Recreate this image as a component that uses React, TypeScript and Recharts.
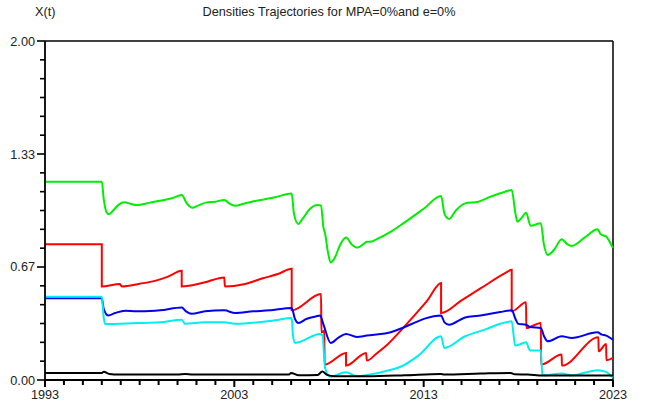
import { LineChart, Line, XAxis, YAxis, ReferenceLine } from "recharts";

// [year, density] pairs
const green = [
  [1993, 1.169], [1996.0, 1.169], [1996.1, 1.07], [1996.25, 0.99], [1996.38, 0.978],
  [1996.6, 1.0], [1996.9, 1.035], [1997.19, 1.048], [1997.5, 1.04], [1997.84, 1.032],
  [1998.5, 1.045], [1999.07, 1.058], [1999.7, 1.072], [2000.22, 1.091], [2000.5, 1.04],
  [2000.78, 1.016], [2001.1, 1.03], [2001.54, 1.048], [2002.0, 1.052], [2002.47, 1.062],
  [2002.75, 1.04], [2003.04, 1.028], [2003.5, 1.04], [2003.92, 1.052], [2004.89, 1.072],
  [2005.15, 1.078], [2006.03, 1.101], [2006.15, 0.98], [2006.38, 0.921], [2006.6, 0.95],
  [2007.0, 1.01], [2007.4, 1.032], [2007.58, 1.03], [2007.7, 0.905], [2007.8, 0.86],
  [2007.95, 0.75], [2008.09, 0.693], [2008.3, 0.72], [2008.6, 0.8], [2008.9, 0.84],
  [2009.2, 0.8], [2009.5, 0.781], [2009.8, 0.8], [2010.0, 0.816], [2010.17, 0.815],
  [2010.5, 0.83], [2011.23, 0.872], [2012.0, 0.93], [2013.0, 1.01], [2013.92, 1.085],
  [2014.1, 0.98], [2014.34, 0.95], [2014.7, 1.0], [2015.19, 1.042], [2015.89, 1.052],
  [2016.5, 1.08], [2017.3, 1.111], [2017.65, 1.121], [2017.85, 0.98], [2017.95, 0.934],
  [2018.2, 0.96], [2018.41, 0.987], [2018.65, 0.91], [2019.19, 0.925], [2019.35, 0.8],
  [2019.55, 0.738], [2019.9, 0.77], [2020.29, 0.83], [2020.6, 0.8], [2020.82, 0.791],
  [2021.5, 0.84], [2022.18, 0.889], [2022.35, 0.86], [2022.64, 0.846], [2022.94, 0.791],
  [2023, 0.78],
];

const red = [
  [1993, 0.801], [1996.0, 0.801], [1996.0, 0.552], [1996.96, 0.566], [1997.05, 0.552],
  [1998.0, 0.568], [1998.81, 0.585], [1999.5, 0.61], [2000.22, 0.644], [2000.22, 0.552],
  [2001.4, 0.575], [2002.47, 0.605], [2002.5, 0.552], [2003.5, 0.565], [2004.5, 0.6],
  [2005.3, 0.625], [2006.03, 0.656], [2006.03, 0.411], [2007.58, 0.507], [2007.6, 0.28],
  [2007.75, 0.29], [2007.77, 0.09], [2008.9, 0.16], [2008.9, 0.085], [2009.96, 0.16],
  [2010.0, 0.115], [2010.5, 0.155], [2011.0, 0.2], [2011.8, 0.293], [2012.5, 0.38],
  [2013.2, 0.47], [2013.92, 0.572], [2013.92, 0.395], [2015.0, 0.47], [2016.0, 0.54],
  [2017.3, 0.63], [2017.65, 0.65], [2017.65, 0.405], [2018.41, 0.458], [2018.42, 0.307],
  [2019.19, 0.336], [2019.2, 0.091], [2020.29, 0.15], [2020.3, 0.085], [2022.23, 0.252],
  [2022.24, 0.169], [2022.64, 0.213], [2022.65, 0.116], [2023, 0.13],
];

const blue = [
  [1993, 0.483], [1996.0, 0.483], [1996.1, 0.42], [1996.34, 0.381], [1996.7, 0.395],
  [1997.23, 0.409], [1997.84, 0.405], [1998.81, 0.409], [1999.07, 0.411], [2000.22, 0.428],
  [2000.45, 0.405], [2000.75, 0.391], [2001.45, 0.405], [2002.47, 0.411], [2003.04, 0.395],
  [2004.0, 0.405], [2004.89, 0.411], [2005.15, 0.415], [2006.03, 0.425], [2006.2, 0.36],
  [2006.38, 0.336], [2006.8, 0.36], [2007.3, 0.375], [2007.53, 0.381], [2007.7, 0.33],
  [2008.09, 0.219], [2008.5, 0.25], [2008.9, 0.272], [2009.47, 0.254], [2010.0, 0.262],
  [2010.96, 0.274], [2013.92, 0.381], [2014.1, 0.34], [2014.34, 0.326], [2015.19, 0.369],
  [2015.89, 0.379], [2017.04, 0.401], [2017.65, 0.411], [2017.85, 0.36], [2018.0, 0.331],
  [2018.41, 0.326], [2018.62, 0.313], [2019.19, 0.307], [2019.35, 0.26], [2019.55, 0.228],
  [2020.29, 0.258], [2020.82, 0.248], [2022.18, 0.281], [2022.41, 0.268], [2022.64, 0.262],
  [2022.94, 0.242], [2023, 0.238],
];

const cyan = [
  [1993, 0.491], [1996.0, 0.491], [1996.1, 0.37], [1996.17, 0.331], [1997.84, 0.336],
  [1999.07, 0.34], [2000.22, 0.356], [2000.4, 0.332], [2001.45, 0.34], [2002.47, 0.34],
  [2003.04, 0.332], [2005.15, 0.352], [2006.03, 0.366], [2006.1, 0.26], [2006.21, 0.219],
  [2007.53, 0.272], [2007.66, 0.262], [2007.79, 0.072], [2008.06, 0.019], [2008.9, 0.046],
  [2009.47, 0.022], [2010.3, 0.035], [2010.96, 0.052], [2011.84, 0.081], [2012.72, 0.144],
  [2013.92, 0.258], [2014.09, 0.189], [2015.19, 0.258], [2016.3, 0.3], [2017.04, 0.332],
  [2017.65, 0.346], [2017.83, 0.203], [2018.41, 0.222], [2018.62, 0.174], [2019.19, 0.174],
  [2019.27, 0.028], [2020.29, 0.038], [2020.82, 0.028], [2022.18, 0.058], [2022.64, 0.048],
  [2022.94, 0.019], [2023, 0.015],
];

const black = [
  [1993, 0.042], [1996.0, 0.042], [1996.1, 0.048], [1996.4, 0.035], [1996.9, 0.032],
  [2000.0, 0.033], [2000.4, 0.036], [2000.8, 0.032], [2005.9, 0.033], [2006.0, 0.042],
  [2006.4, 0.028], [2007.4, 0.03], [2007.65, 0.05], [2007.9, 0.03], [2008.3, 0.022],
  [2010, 0.022], [2012, 0.028], [2013.9, 0.036], [2014.1, 0.032], [2016, 0.038],
  [2017.6, 0.042], [2017.8, 0.034], [2018.5, 0.032], [2019.3, 0.026], [2023, 0.026],
];

const yearTicks = [
  1993, 1994, 1995, 1996, 1997, 1998, 1999, 2000, 2001, 2002, 2003, 2004, 2005, 2006,
  2007, 2008, 2009, 2010, 2011, 2012, 2013, 2014, 2015, 2016, 2017, 2018, 2019, 2020,
  2021, 2022, 2023,
];
const yearLabels = [1993, 2003, 2013, 2023];

const densityTicks = [
  0, 0.1111, 0.2222, 0.3333, 0.4444, 0.5556, 0.6667, 0.7778, 0.8889, 1.0, 1.1111,
  1.2222, 1.3333, 1.4444, 1.5556, 1.6667, 1.7778, 1.8889, 2.0,
];
const densityLabels = ["0.00", "0.67", "1.33", "2.00"];

const toPoints = (rows: number[][]) => rows.map(([t, v]) => ({ t, v }));

const series = [
  { name: "green", color: "#00ee00", rows: green },
  { name: "red", color: "#ff0000", rows: red },
  { name: "blue", color: "#0000ee", rows: blue },
  { name: "cyan", color: "#00eeee", rows: cyan },
  { name: "black", color: "#000000", rows: black },
];

const font = "'Liberation Sans', Arial, sans-serif";
const textSize = 12.7;

// year tick: a short mark under the axis, plus the label on every tenth year
function YearTick(props: any) {
  const { x, y, payload } = props;
  const major = yearLabels.includes(payload.value);
  const len = major ? 7 : 5;
  return (
    <g>
      <rect x={x - 1} y={y} width={2} height={len} fill="#000" stroke="none" />
      {major && (
        <text x={x} y={y + 18.5} textAnchor="middle" fontSize={textSize} fill="#222" fontFamily={font}>
          {payload.value}
        </text>
      )}
    </g>
  );
}

function DensityTick(props: any) {
  const { x, y, index } = props;
  const major = index % 6 === 0;
  const len = major ? 8 : 5;
  return (
    <g>
      <path d={`M${x - len},${y}H${x}`} stroke="#000" strokeWidth={1.6} fill="none" />
      {major && (
        <text x={x - 10} y={y + 4.5} textAnchor="end" fontSize={textSize} fill="#222" fontFamily={font}>
          {densityLabels[index / 6]}
        </text>
      )}
    </g>
  );
}

export default function App() {
  return (
    <div style={{ position: "absolute", left: 0, top: 0, width: 658, height: 406, background: "#fff" }}>
      <div
        style={{
          position: "absolute", left: 0, width: 658, top: 5, textAlign: "center",
          fontFamily: font, fontSize: textSize, color: "#222",
        }}
      >
        Densities Trajectories for MPA=0%and e=0%
      </div>
      <div style={{ position: "absolute", left: 35, top: 5, fontFamily: font, fontSize: textSize, color: "#222" }}>
        X(t)
      </div>
      <LineChart
        width={658}
        height={406}
        margin={{ top: 41, right: 45, bottom: 0, left: 0 }}
        style={{ overflow: "visible" }}
      >
        <XAxis
          type="number"
          dataKey="t"
          domain={[1993, 2023]}
          ticks={yearTicks}
          interval={0}
          height={26}
          tickSize={0}
          tickMargin={0}
          axisLine={{ stroke: "#000", strokeWidth: 1.8 }}
          tick={<YearTick />}
        />
        <YAxis
          type="number"
          domain={[0, 2]}
          ticks={densityTicks}
          interval={0}
          width={45}
          tickSize={0}
          tickMargin={0}
          axisLine={{ stroke: "#000", strokeWidth: 1.8 }}
          tick={<DensityTick />}
        />
        <ReferenceLine y={2} stroke="#000" strokeWidth={1.5} />
        <ReferenceLine x={2023} stroke="#000" strokeWidth={1.5} />
        {series.map((s) => (
          <Line
            key={s.name}
            data={toPoints(s.rows)}
            dataKey="v"
            type="monotone"
            stroke={s.color}
            strokeWidth={2}
            dot={false}
            activeDot={false}
            isAnimationActive={false}
          />
        ))}
      </LineChart>
    </div>
  );
}
